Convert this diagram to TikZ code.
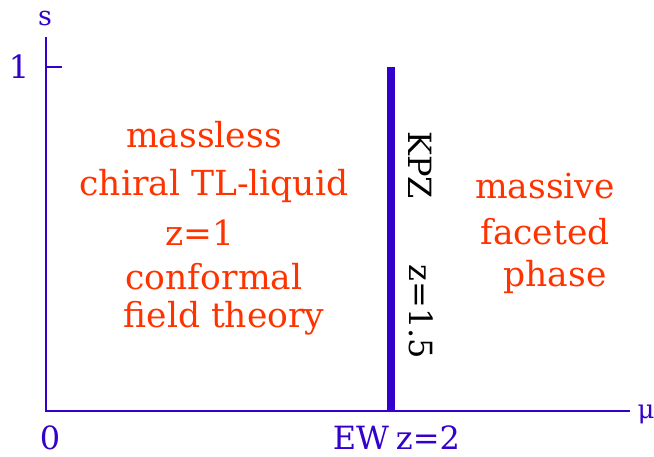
\documentclass[tikz,border=0pt]{standalone}
\usepackage{fontspec}
\setmainfont{DejaVu Serif}
\definecolor{axisblue}{HTML}{3300CC}
\definecolor{phasered}{HTML}{FF3300}
\begin{document}
\begin{tikzpicture}[x=1pt,y=1pt,
  ax/.style={draw=axisblue,line width=2.8pt},
  bluelab/.style={text=axisblue,font=\fontsize{32}{36}\selectfont,inner sep=0pt},
  redlab/.style={text=phasered,font=\fontsize{34.5}{40}\selectfont,inner sep=0pt},
  blacklab/.style={text=black,font=\fontsize{32}{36}\selectfont,inner sep=0pt,rotate=-90}]
\useasboundingbox (0,0) rectangle (654,457);
\coordinate (O) at (46,46);
\coordinate (ytop) at (46,420);
\coordinate (xend) at (630,46);
\coordinate (tick) at (62,390);
\coordinate (tickb) at (46,390);
\coordinate (barb) at (391,46);
\coordinate (bart) at (391,390);
\draw[ax] (ytop) -- (O) -- (xend);
\draw[ax] (tickb) -- (tick);
\draw[draw=axisblue,line width=8pt] (barb) -- (bart);
\node[bluelab,font=\fontsize{27}{30}\selectfont] (s) at (45,438) {s};
\node[bluelab] (one) at (19,390) {1};
\node[bluelab] (zero) at (50,19) {0};
\node[bluelab] (ew) at (361,19) {EW};
\node[bluelab] (z2) at (428,19) {z=2};
\node[bluelab,font=\fontsize{26}{30}\selectfont] (mu) at (646,43) {μ};
\node[blacklab] (kpz) at (420,292) {KPZ};
\node[blacklab] (z15) at (421,145) {z=1.5};
\node[redlab] (l1) at (204,322) {massless};
\node[redlab] (l2) at (214,271) {chiral TL-liquid};
\node[redlab] (l3) at (200,224) {z=1};
\node[redlab] (l4) at (214,180) {conformal};
\node[redlab] (l5) at (224,139) {field theory};
\node[redlab] (r1) at (545,271) {massive};
\node[redlab] (r2) at (545,225) {faceted};
\node[redlab] (r3) at (555,180) {phase};
\end{tikzpicture}
\end{document}
